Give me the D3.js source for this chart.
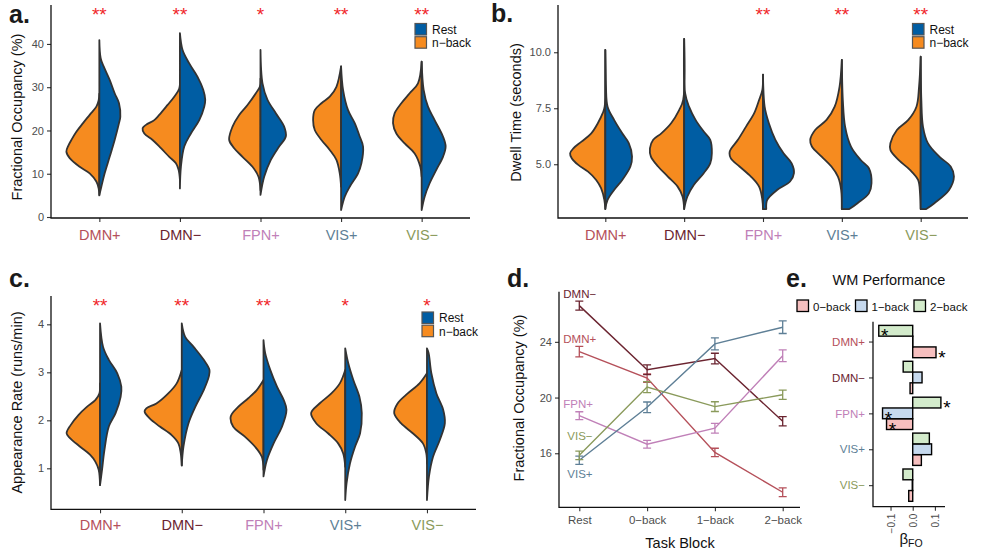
<!DOCTYPE html>
<html>
<head>
<meta charset="utf-8">
<script src="https://cdn.jsdelivr.net/npm/d3@7"></script>
<style>
  body { margin: 0; background: #fff; }
  svg { display: block; font-family: "Liberation Sans", Arial, Helvetica, sans-serif; }
</style>
</head>
<body>
<svg id="fig" width="981" height="556"></svg>
<script>
// ---- data ----
const networks = ["DMN+", "DMN−", "FPN+", "VIS+", "VIS−"];
const netColors = ["#b5505a", "#6b2430", "#c080b8", "#5e7f96", "#8a9a5b"];
const conds = ["Rest", "n−back"];
const condColors = ["#005da3", "#f68b1f"];

// violin outlines: [value, density] per network (density in arbitrary units)
const foNback = [
  [[5.0,0],[6.6,2],[8.2,9],[10.1,29],[11.6,59],[13.6,89],[15.1,99],[16.5,93],[17.8,84],[19.7,69],[21.7,49],[23.6,29],[25.5,9],[27.0,2],[28.5,0]],
  [[8.6,0],[10.9,4],[12.4,12],[13.9,32],[15.9,57],[17.8,82],[19.3,107],[20.5,112],[21.3,102],[22.4,77],[23.6,62],[25.9,37],[27.8,17],[29.7,2],[32.8,0]],
  [[6.2,0],[9.3,6],[11.6,24],[13.9,54],[15.9,79],[17.8,94],[20.9,84],[23.6,64],[25.9,39],[28.6,14],[30.1,2],[32.0,0]],
  [[7.0,0],[10.1,4],[13.2,14],[15.5,34],[17.8,59],[20.1,79],[22.4,84],[24.7,79],[26.3,59],[27.8,34],[30.1,14],[34.8,0]],
  [[9.3,0],[11.6,4],[14.7,21],[17.0,51],[19.3,76],[21.7,86],[24.0,81],[26.3,61],[28.6,36],[30.9,11],[35.9,0]]
];
const foRest = [
  [[5.1,0],[7.0,6],[10.1,16],[13.9,31],[17.8,46],[21.7,59],[23.2,63],[26.3,59],[28.6,46],[31.7,31],[34.8,13],[36.7,4],[40.9,0]],
  [[6.6,0],[11.6,3],[16.3,13],[19.3,33],[22.4,58],[25.5,73],[27.1,76],[29.4,70],[32.4,53],[35.5,28],[38.6,8],[42.5,0]],
  [[5.1,0],[9.3,11],[13.2,31],[16.3,56],[18.6,76],[20.9,71],[24.0,46],[27.1,21],[30.9,6],[38.6,0]],
  [[1.6,0],[4.7,11],[7.0,26],[10.1,51],[12.4,61],[16.3,66],[18.6,56],[21.7,41],[24.7,21],[29.4,6],[34.8,0]],
  [[1.6,0],[4.7,9],[7.8,24],[10.9,44],[13.9,64],[16.3,72],[18.6,64],[22.4,39],[25.5,19],[29.4,6],[35.9,0]]
];
const dtNback = [
  [[3.0,0],[3.41,3],[3.93,13],[4.30,28],[4.67,53],[4.97,83],[5.27,103],[5.49,108],[5.71,98],[6.01,73],[6.38,43],[6.83,23],[7.28,8],[7.57,2],[10.1,0]],
  [[3.0,0],[3.56,5],[4.0,20],[4.45,50],[4.90,80],[5.34,102],[5.71,105],[6.09,95],[6.38,70],[6.83,40],[7.43,15],[7.87,3],[10.6,0]],
  [[3.0,0],[3.41,2],[4.0,12],[4.45,37],[4.9,72],[5.27,99],[5.57,102],[6.09,77],[6.68,52],[7.28,27],[7.87,12],[8.32,2],[9.0,0]],
  [[3.0,0],[3.85,2],[4.45,12],[4.90,32],[5.34,62],[5.79,92],[6.09,97],[6.53,82],[6.98,47],[7.57,22],[8.47,7],[9.66,0]],
  [[3.0,0],[3.7,2],[4.30,8],[4.75,33],[5.19,68],[5.64,93],[5.94,93],[6.53,73],[6.98,38],[7.57,13],[8.47,5],[9.8,0]]
];
const dtRest = [
  [[3.0,0],[3.41,7],[3.85,27],[4.30,52],[4.90,77],[5.34,82],[5.94,72],[6.38,52],[6.98,27],[7.57,7],[8.47,2],[10.1,0]],
  [[3.0,0],[3.56,10],[4.08,30],[4.6,60],[5.04,80],[5.49,85],[6.09,80],[6.46,60],[6.98,35],[7.57,15],[8.17,3],[10.6,0]],
  [[3.0,10],[3.41,13],[3.85,43],[4.23,83],[4.6,95],[5.04,88],[5.49,63],[6.09,38],[6.83,18],[7.57,5],[9.0,0]],
  [[3.0,23],[3.26,48],[3.7,83],[4.15,91],[4.82,83],[5.19,58],[5.79,28],[6.68,10],[7.87,3],[9.66,0]],
  [[3.0,17],[3.26,42],[3.85,87],[4.45,102],[4.9,92],[5.34,57],[5.94,22],[6.68,7],[7.87,2],[9.8,0]]
];
const arNback = [
  [[0.65,0],[0.97,4],[1.14,14],[1.28,29],[1.45,59],[1.63,89],[1.73,99],[1.9,87],[2.11,64],[2.28,39],[2.42,14],[2.56,2],[2.77,0]],
  [[1.06,0],[1.31,3],[1.52,10],[1.69,30],[1.87,65],[2.04,95],[2.18,110],[2.25,105],[2.35,75],[2.56,40],[2.77,15],[3.05,0]],
  [[0.97,0],[1.24,5],[1.45,25],[1.66,55],[1.87,90],[2.08,97],[2.28,75],[2.46,45],[2.63,20],[2.84,0]],
  [[1.03,0],[1.31,6],[1.52,21],[1.73,51],[1.94,86],[2.15,101],[2.35,76],[2.56,41],[2.77,16],[3.05,0]],
  [[1.1,0],[1.31,2],[1.52,12],[1.73,42],[1.94,77],[2.15,97],[2.35,87],[2.56,57],[2.77,22],[2.98,0]]
];
const arRest = [
  [[0.65,0],[0.97,6],[1.38,13],[1.87,26],[2.15,46],[2.49,61],[2.7,63],[2.98,51],[3.26,26],[3.53,9],[4.02,0]],
  [[1.06,0],[1.45,5],[1.94,20],[2.28,40],[2.63,65],[2.91,80],[3.05,82],[3.26,65],[3.53,35],[3.74,10],[4.02,0]],
  [[0.83,0],[1.17,10],[1.52,30],[1.87,55],[2.22,68],[2.42,60],[2.7,40],[3.05,20],[3.4,5],[3.67,0]],
  [[0.34,0],[0.69,4],[1.1,14],[1.45,29],[1.73,44],[2.15,49],[2.49,42],[2.84,24],[3.19,9],[3.5,0]],
  [[0.34,0],[0.83,6],[1.24,18],[1.59,38],[1.94,53],[2.22,48],[2.56,28],[2.98,13],[3.4,5],[3.5,0]]
];
const foStars = ["**", "**", "*", "**", "**"];
const dtStars = ["", "", "**", "**", "**"];
const arStars = ["**", "**", "**", "*", "*"];

// panel d: fractional occupancy by task block
const blocks = ["Rest", "0−back", "1−back", "2−back"];
const occMean = [
  [23.3, 21.4, 16.06, 13.2],
  [26.6, 22.0, 22.8, 18.3],
  [18.7, 16.65, 17.8, 23.0],
  [15.5, 19.3, 23.85, 25.05],
  [15.85, 20.75, 19.35, 20.2]
];
const occSE = [
  [0.38, 0.30, 0.30, 0.32],
  [0.32, 0.35, 0.38, 0.33],
  [0.28, 0.28, 0.35, 0.42],
  [0.30, 0.38, 0.43, 0.45],
  [0.30, 0.40, 0.35, 0.33]
];
const occLabelVal = [23.93, 27.16, 19.25, 14.22, 16.95];

// panel e: WM performance betas
const wmBlocks = ["0−back", "1−back", "2−back"];
const wmColors = ["#f6bfbf", "#c6d9ee", "#d3ebcb"];
const beta = [
  [0.105, -0.012, -0.118, 0.039, -0.018],
  [0.001, 0.042, -0.136, 0.085, -0.002],
  [-0.153, -0.043, 0.127, 0.075, -0.044]
];
const betaSig = [
  [1, 0, 1, 0, 0],
  [0, 0, 1, 0, 0],
  [1, 0, 1, 0, 0]
];

// ---- drawing ----
const svg = d3.select("#fig");
const FONT = "'Liberation Sans', Arial, Helvetica, sans-serif";

function styleAxis(g, size) {
  g.attr("font-family", FONT);
  g.select(".domain").remove();
  g.selectAll(".tick line").attr("stroke", "#333").attr("stroke-width", 1.1);
  g.selectAll(".tick text").attr("fill", "#4d4d4d").style("font-size", (size || 11) + "px");
}

function panelLabel(t, x, y) {
  svg.append("text").attr("x", x).attr("y", y).text(t)
    .attr("font-weight", "bold").attr("font-size", 25).attr("fill", "#1a1a1a");
}

function violinPanel(p) {
  const g = svg.append("g");
  const x = d3.scalePoint().domain(networks).range(p.xRange).padding(0.6);
  const y = d3.scaleLinear().domain(p.yDomain).range(p.yRange);
  const w = d3.scaleLinear().domain([0, 112]).range([0, 0.463 * x.step()]);

  const halves = [
    { data: p.nback, color: condColors[1], side: -1 },
    { data: p.rest, color: condColors[0], side: 1 }
  ];
  networks.forEach((n, i) => {
    const cx = x(n);
    halves.forEach(h => {
      const area = d3.area()
        .y(d => y(d[0]))
        .x0(cx)
        .x1(d => cx + h.side * w(d[1]))
        .curve(d3.curveCatmullRom.alpha(0.5));
      g.append("path").attr("d", area(h.data[i]))
        .attr("fill", h.color).attr("stroke", "#333").attr("stroke-width", 1.8)
        .attr("stroke-linejoin", "round");
    });
    g.append("text").attr("x", cx).attr("y", y(p.starVal)).attr("dy", 10.5)
      .attr("text-anchor", "middle").attr("fill", "#f0262a").attr("font-size", 19)
      .text(p.stars[i]);
  });

  // axes
  const yAx = g.append("g").attr("transform", `translate(${p.xRange[0]},0)`)
    .call(d3.axisLeft(y).tickValues(p.ticks).tickFormat(p.fmt).tickSize(4).tickPadding(3));
  styleAxis(yAx, 11);
  const xAx = g.append("g").attr("transform", `translate(0,${p.yRange[0]})`)
    .call(d3.axisBottom(x).tickSize(4).tickPadding(p.xPad));
  styleAxis(xAx, 14.5);
  xAx.selectAll(".tick text").attr("fill", (d, i) => netColors[i]);
  g.append("path").attr("d", `M${p.xRange[0]},${p.yRange[1]}V${p.yRange[0]}H${p.xRange[1]}`)
    .attr("fill", "none").attr("stroke", "#111").attr("stroke-width", 1.3);

  g.append("text").attr("transform", `translate(${p.titlePos[0]},${p.titlePos[1]}) rotate(-90)`)
    .attr("text-anchor", "middle").attr("font-size", 14.5).attr("fill", "#111").text(p.title);

  // legend
  const lg = g.append("g").attr("transform", `translate(${p.legend[0]},${p.legend[1]})`);
  conds.forEach((c, i) => {
    lg.append("rect").attr("x", 0).attr("y", i * 13.2).attr("width", 11.5).attr("height", 11.5)
      .attr("fill", condColors[i]).attr("stroke", "#555").attr("stroke-width", 1.2);
    lg.append("text").attr("x", 17).attr("y", i * 13.2 + 10.3).attr("font-size", 12)
      .attr("fill", "#111").text(c);
  });
}

violinPanel({
  xRange: [51, 470], yDomain: [-0.23, 49], yRange: [218, 5], ticks: [0, 10, 20, 30, 40],
  fmt: d3.format("d"), title: "Fractional Occupancy (%)", titlePos: [21.5, 117],
  stars: foStars, starVal: 47.7, nback: foNback, rest: foRest, legend: [415, 23.5], xPad: 7.5
});
violinPanel({
  xRange: [558, 968], yDomain: [2.6, 12.11], yRange: [218, 5], ticks: [5, 7.5, 10],
  fmt: d3.format(".1f"), title: "Dwell Time (seconds)", titlePos: [521, 112.5],
  stars: dtStars, starVal: 11.86, nback: dtNback, rest: dtRest, legend: [912.5, 23.5], xPad: 7.5
});
violinPanel({
  xRange: [51, 476], yDomain: [0.146, 4.59], yRange: [509.3, 296], ticks: [1, 2, 3, 4],
  fmt: d3.format("d"), title: "Appearance Rate (runs/min)", titlePos: [21.5, 402.5],
  stars: arStars, starVal: 4.48, nback: arNback, rest: arRest, legend: [422, 312], xPad: 6.4
});

panelLabel("a.", 9, 23);
panelLabel("b.", 491, 22);
panelLabel("c.", 9, 287);
panelLabel("d.", 507, 287);
panelLabel("e.", 786, 287);

// ---- panel d ----
(function () {
  const g = svg.append("g");
  const x = d3.scalePoint().domain(blocks).range([579.3, 782.7]);
  const y = d3.scaleLinear().domain([12.12, 27.6]).range([507.3, 291.7]);
  const line = d3.line().x((d, j) => x(blocks[j])).y(d => y(d));

  networks.forEach((n, i) => {
    g.append("path").attr("d", line(occMean[i])).attr("fill", "none")
      .attr("stroke", netColors[i]).attr("stroke-width", 1.4);
    occMean[i].forEach((m, j) => {
      const cx = x(blocks[j]), y0 = y(m - occSE[i][j]), y1 = y(m + occSE[i][j]);
      g.append("path").attr("d", `M${cx - 4},${y1}H${cx + 4}M${cx},${y1}V${y0}M${cx - 4},${y0}H${cx + 4}`)
        .attr("fill", "none").attr("stroke", netColors[i]).attr("stroke-width", 1.3);
    });
    g.append("text").attr("x", x(blocks[0]) - (i === 3 || i === 4 ? 12 : 16))
      .attr("y", y(occLabelVal[i])).attr("font-size", 11.5).attr("fill", netColors[i]).text(n);
  });

  const yAx = g.append("g").attr("transform", "translate(559,0)")
    .call(d3.axisLeft(y).tickValues([16, 20, 24]).tickSize(4).tickPadding(3));
  styleAxis(yAx, 11);
  const xAx = g.append("g").attr("transform", "translate(0,507.3)")
    .call(d3.axisBottom(x).tickSize(4).tickPadding(5));
  styleAxis(xAx, 11.5);
  g.append("path").attr("d", "M559,291.7V507.3H800").attr("fill", "none")
    .attr("stroke", "#111").attr("stroke-width", 1.3);
  g.append("text").attr("transform", "translate(523.5,398) rotate(-90)")
    .attr("text-anchor", "middle").attr("font-size", 14.5).attr("fill", "#111")
    .text("Fractional Occupancy (%)");
  g.append("text").attr("x", 680).attr("y", 548).attr("text-anchor", "middle")
    .attr("font-size", 14.5).attr("fill", "#111").text("Task Block");
})();

// ---- panel e ----
(function () {
  const g = svg.append("g");
  const y = d3.scalePoint().domain(networks).range([320, 506.7]).padding(0.6);
  const x = d3.scaleLinear().domain([-0.179, 0.1455]).range([873, 945]);
  const sub = d3.scaleBand().domain(["2", "1", "0"]).range([-0.45 * y.step(), 0.45 * y.step()]);

  wmBlocks.forEach((b, k) => {
    networks.forEach((n, i) => {
      const v = beta[k][i];
      const yy = y(n) + sub(String(k));
      g.append("rect").attr("x", x(Math.min(0, v))).attr("y", yy)
        .attr("width", Math.abs(x(v) - x(0))).attr("height", sub.bandwidth())
        .attr("fill", wmColors[k]).attr("stroke", "#000").attr("stroke-width", 1.4);
    });
  });
  wmBlocks.forEach((b, k) => {
    networks.forEach((n, i) => {
      if (!betaSig[k][i]) return;
      const yy = y(n) + sub(String(k)) + sub.bandwidth() / 2 + 1;
      g.append("text").attr("x", x(beta[k][i]) + 6).attr("y", yy).attr("dy", 10.5)
        .attr("text-anchor", "middle").attr("font-size", 19).attr("fill", "#000").text("*");
    });
  });

  const yAx = g.append("g").attr("transform", "translate(873,0)")
    .call(d3.axisLeft(y).tickSize(4).tickPadding(4));
  styleAxis(yAx, 11.5);
  yAx.selectAll(".tick text").attr("fill", (d, i) => netColors[i]);
  const xAx = g.append("g").attr("transform", "translate(0,506.7)")
    .call(d3.axisBottom(x).tickValues([-0.1, 0, 0.1]).tickFormat(d3.format(".1f")).tickSize(4));
  styleAxis(xAx, 10);
  xAx.selectAll(".tick text").attr("transform", "translate(0,7) rotate(-90)")
    .attr("text-anchor", "end").attr("y", 0).attr("dy", "0.35em").text(d => d3.format(".1f")(d).replace("-", "−"));
  g.append("path").attr("d", "M873,321.7V506.7H945").attr("fill", "none")
    .attr("stroke", "#111").attr("stroke-width", 1.3);

  const t = g.append("text").attr("x", 911).attr("y", 544).attr("text-anchor", "middle").attr("fill", "#111");
  t.append("tspan").attr("font-size", 15).text("β");
  t.append("tspan").attr("font-size", 10.5).attr("dy", 3).text("FO");

  g.append("text").attr("x", 889).attr("y", 285).attr("text-anchor", "middle")
    .attr("font-size", 14.5).attr("fill", "#111").text("WM Performance");

  const lx = [797, 855.5, 914];
  wmBlocks.forEach((b, k) => {
    g.append("rect").attr("x", lx[k]).attr("y", 300).attr("width", 11.5).attr("height", 11.5)
      .attr("fill", wmColors[k]).attr("stroke", "#000").attr("stroke-width", 1.3);
    g.append("text").attr("x", lx[k] + 16).attr("y", 310.5).attr("font-size", 11.5)
      .attr("fill", "#111").text(b);
  });
})();
</script>
</body>
</html>
